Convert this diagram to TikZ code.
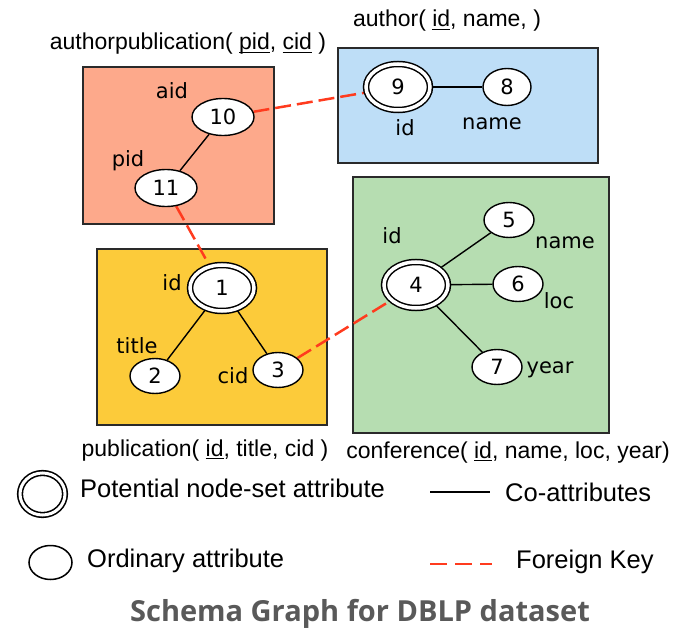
\documentclass[tikz,border=0pt]{standalone}
\usepackage{fontspec}
\setmainfont{Liberation Sans}
\newfontfamily\lblfont{DejaVu Sans}
\newfontfamily\capfont{Open Sans}
\usetikzlibrary{shapes.geometric}

\definecolor{apfill}{HTML}{FDA98B}
\definecolor{aufill}{HTML}{BEDEF7}
\definecolor{pubfill}{HTML}{FCCB3A}
\definecolor{conffill}{HTML}{B6DDB1}
\definecolor{fkred}{HTML}{FF3B1E}
\definecolor{capgray}{HTML}{595959}
\definecolor{boxline}{HTML}{2A2A2A}

% underlined key attribute
\newcommand\keyul[1]{\setbox0=\hbox{#1}\rlap{\rule[-2.6pt]{\wd0}{1pt}}\box0\relax}

\pgfdeclarelayer{boxes}
\pgfdeclarelayer{edges}
\pgfsetlayers{boxes,edges,main}

\tikzset{
  relbox/.style={draw=boxline, line width=1.6pt},
  attr/.style={ellipse, draw=black, line width=1.4pt, fill=white, inner sep=0pt,
    minimum width=50pt, minimum height=35pt, font=\lblfont\fontsize{21}{24}\selectfont},
  wideattr/.style={attr, minimum width=62pt, minimum height=37pt},
  keyattr/.style={attr, line width=1.5pt, double=white, double distance=3.5pt,
    minimum width=64pt, minimum height=46pt},
  lbl/.style={anchor=base, inner sep=0pt, font=\lblfont\fontsize{21}{24}\selectfont},
  reltitle/.style={anchor=base, inner sep=0pt, font=\fontsize{23}{27}\selectfont},
  legtext/.style={anchor=base west, inner sep=0pt, font=\fontsize{25.5}{30}\selectfont},
  co/.style={draw=black, line width=1.4pt},
  fk/.style={draw=fkred, line width=2.5pt, dash pattern=on 16pt off 6pt},
}

\begin{document}
\begin{tikzpicture}[x=1pt,y=-1pt]
\useasboundingbox (0,0) rectangle (687,628);

% relation boxes
\begin{pgfonlayer}{boxes}
  \draw[relbox, fill=apfill]   (83,67)   rectangle (274,224);
  \draw[relbox, fill=aufill]   (338,48)  rectangle (598,163);
  \draw[relbox, fill=pubfill]  (97,249)  rectangle (327,425);
  \draw[relbox, fill=conffill] (353,177) rectangle (609,433);
\end{pgfonlayer}

% relation titles
\node[reltitle] (tap)   at (188,50)  {authorpublication( \keyul{pid}, \keyul{cid} )};
\node[reltitle] (tau)   at (447,27)  {author( \keyul{id}, name, )};
\node[reltitle] (tpub)  at (205,456) {publication( \keyul{id}, title, cid )};
\node[reltitle] (tconf) at (508,458) {conference( \keyul{id}, name, loc, year)};

% authorpublication
\node[wideattr] (n10) at (223,117) {10};
\node[wideattr] (n11) at (166,188) {11};
\node[lbl] (laid) at (172,99)  {aid};
\node[lbl] (lpid) at (128,167) {pid};

% author
\node[keyattr] (n9) at (398,87) {9};
\node[attr, minimum width=48pt, minimum height=37pt] (n8) at (507,87) {8};
\node[lbl] (lauid)   at (405,136) {id};
\node[lbl] (launame) at (492,130) {name};

% publication
\node[keyattr] (n1) at (222,288) {1};
\node[attr] (n2) at (155,376) {2};
\node[attr] (n3) at (278,370) {3};
\node[lbl] (lpubid)    at (172,290) {id};
\node[lbl] (lpubtitle) at (137,353) {title};
\node[lbl] (lpubcid)   at (233,383) {cid};

% conference
\node[keyattr] (n4) at (416,285) {4};
\node[attr] (n5) at (509,220) {5};
\node[attr] (n6) at (518,284) {6};
\node[attr] (n7) at (497,367) {7};
\node[lbl] (lcid)   at (392,243) {id};
\node[lbl] (lcname) at (565,248) {name};
\node[lbl] (lcloc)  at (559,308) {loc};
\node[lbl] (lcyear) at (550,373) {year};

% connectors
\begin{pgfonlayer}{edges}
  \draw[co] (n10) -- (n11);
  \draw[co] (n9) -- (n8);
  \draw[co] (n1) -- (n2);
  \draw[co] (n1) -- (n3);
  \draw[co] (n4) -- (n5);
  \draw[co] (n4) -- (n6);
  \draw[co] (n4) -- (n7);
  \draw[fk] (n10) -- (n9);
  \draw[fk] (n11) -- (n1);
  \draw[fk] (n3) -- (n4);
\end{pgfonlayer}

% legend
\node[ellipse, draw=black, line width=1.6pt, double=white, double distance=3pt,
      fill=white, inner sep=0pt, minimum width=45pt, minimum height=42pt] (legkey) at (42.5,494) {};
\node[legtext] (legkeyt) at (80,497) {Potential node-set attribute};
\node[ellipse, draw=black, line width=1.5pt, fill=white, inner sep=0pt,
      minimum width=43pt, minimum height=34pt] (legord) at (50.5,562.5) {};
\node[legtext] (legordt) at (87,567) {Ordinary attribute};
\coordinate (coa) at (430,492);
\coordinate (cob) at (490,492);
\draw[co] (coa) -- (cob);
\node[legtext] (legcot) at (505,501) {Co-attributes};
\coordinate (fka) at (430,564);
\coordinate (fkb) at (492,564);
\draw[fk, line width=2.2pt, dash pattern=on 17pt off 8pt] (fka) -- (fkb);
\node[legtext] (legfkt) at (516,568) {Foreign Key};

% caption
\node[anchor=base, inner sep=0pt, text=capgray,
      font=\capfont\bfseries\fontsize{29}{34}\selectfont] (cap) at (360,621) {Schema Graph for DBLP dataset};
\end{tikzpicture}
\end{document}
